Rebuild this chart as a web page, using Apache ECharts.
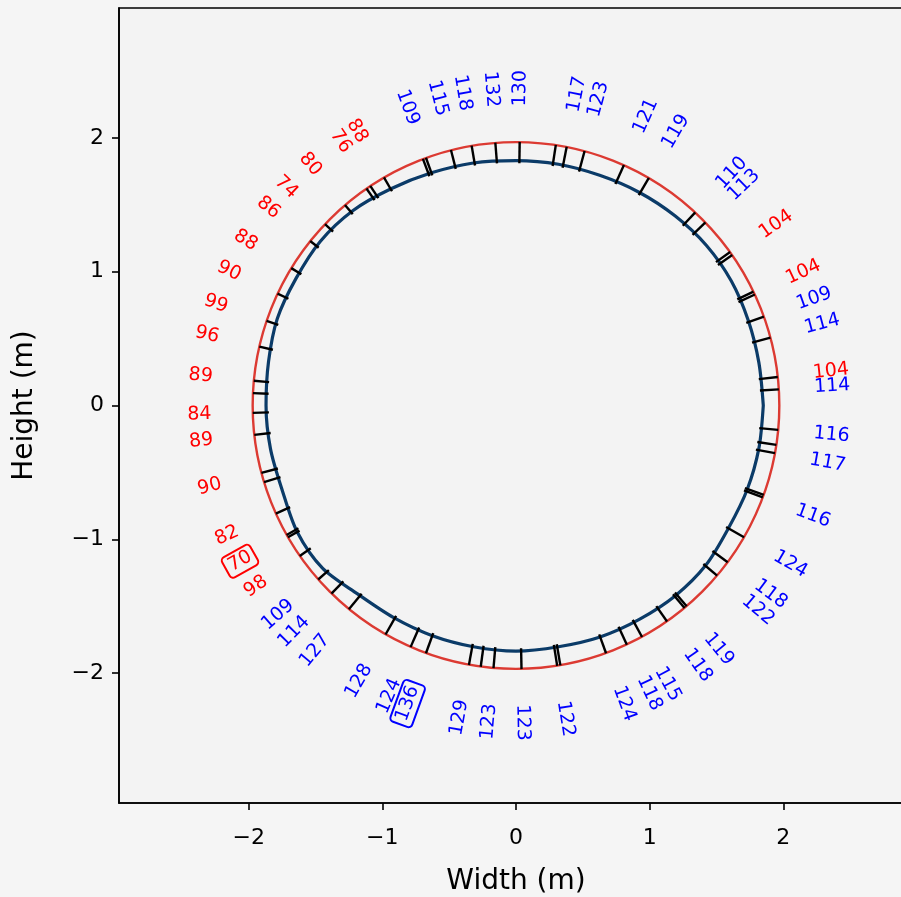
<!DOCTYPE html>
<html>
<head>
<meta charset="utf-8">
<script src="https://cdn.jsdelivr.net/npm/echarts@6/dist/echarts.min.js"></script>
<style>
html, body { margin: 0; background: #f5f5f5; }
#main { width: 901px; height: 897px; }
</style>
</head>
<body>
<div id="main"></div>
<script>
// 坐标轴刻度
var axisTicks = [-2, -1, 0, 1, 2];
var axisLimit = 2.97;

// 参考圆半径 (m)
var refRadius = 1.97;

// 实测轮廓：角度 (度, 逆时针, 0 = 右) 与半径 (m)
var profileAngles = [0, 10, 20, 30, 40, 50, 60, 70, 80, 90, 100, 110, 120, 130, 140, 150, 160, 170,
                     180, 190, 200, 210, 220, 230, 240, 250, 260, 270, 280, 290, 300, 310, 320, 330, 340, 350];
var profileRadii = [1.85, 1.845, 1.85, 1.86, 1.86, 1.85, 1.84, 1.83, 1.83, 1.83, 1.84, 1.85, 1.87, 1.90, 1.91, 1.90, 1.90, 1.88,
                    1.87, 1.865, 1.86, 1.89, 1.89, 1.84, 1.83, 1.83, 1.83, 1.835, 1.83, 1.84, 1.845, 1.855, 1.855, 1.835, 1.84, 1.845];

// 测点：角度 (度) 与读数，null = 无标注
var pointAngles = [3.5, 6.2, 14.9, 19.7, 24.9, 25.6, 34.8, 35.6, 44.0, 47.1, 59.7, 65.8, 74.9, 78.9, 81.3,
                   89.2, 94.5, 99.7, 104.3, 110.0, 110.7, 120.1, 123.6, 124.6, 130.5, 136.5, 141.4, 148.6,
                   154.9, 161.3, 167.1, 174.6, 177.3, 181.6, 186.4, 194.8, 196.9, 204.2, 209.4, 210.0, 214.8,
                   221.3, 225.5, 230.6, 240.3, 246.4, 250.0, 259.7, 262.3, 265.1, 271.2, 279.0, 279.7, 290.0,
                   294.9, 298.6, 305.0, 309.8, 310.4, 319.8, 323.5, 330.0, 339.6, 340.2, 349.6, 351.4, 354.7];
var pointValues = [114, 104, 114, 109, 104, null, 104, null, 113, 110, 119, 121, 123, 117, null,
                   130, 132, 118, 115, 109, null, 88, 76, null, 80, 74, 86, 88,
                   90, 99, 96, 89, null, 84, 89, 90, null, 82, 70, null, 98,
                   109, 114, 127, 128, 124, 136, 129, null, 123, 123, 122, null, 124,
                   118, 115, 118, 119, null, 122, 118, 124, 116, null, 117, null, 116];

var redBelow = 105;
var labelRadius = 2.37;

var shown = pointValues.filter(function (v) { return v !== null; });
var vMax = Math.max.apply(null, shown);
var vMin = Math.min.apply(null, shown);

function toXY(deg, r) {
    var a = deg * Math.PI / 180;
    return [r * Math.cos(a), r * Math.sin(a)];
}

// 两个读取点之间线性取轮廓半径
function profileAt(deg) {
    var n = profileAngles.length;
    for (var i = 0; i < n; i++) {
        var a0 = profileAngles[i];
        var a1 = i + 1 < n ? profileAngles[i + 1] : profileAngles[0] + 360;
        if (deg >= a0 && deg <= a1) {
            var t = (deg - a0) / (a1 - a0);
            return profileRadii[i] + t * (profileRadii[(i + 1) % n] - profileRadii[i]);
        }
    }
    return profileRadii[0];
}

var profileData = profileAngles.map(function (a, i) { return toXY(a, profileRadii[i]); });
profileData.push(profileData[0]);

var pointData = pointAngles.map(function (a, i) { return [a, pointValues[i]]; });

function minusFmt(v) {
    return v < 0 ? '\u2212' + (-v) : String(v);
}

var myChart = echarts.init(document.getElementById('main'));

var option = {
    backgroundColor: '#f5f5f5',
    animation: false,
    grid: {
        left: 119, top: 8, width: 794, height: 795,
        outerBoundsMode: 'none',
        show: true, backgroundColor: '#f3f3f3', borderColor: '#000', borderWidth: 1.6
    },
    xAxis: {
        type: 'value', min: -axisLimit, max: axisLimit,
        name: 'Width (m)', nameLocation: 'middle', nameGap: 65,
        nameTextStyle: { fontSize: 28, color: '#000', fontFamily: 'DejaVu Sans' },
        axisLine: { onZero: false, lineStyle: { color: '#000', width: 1.6 } },
        axisTick: { customValues: axisTicks, length: 7, lineStyle: { color: '#000', width: 1.6 } },
        axisLabel: { customValues: axisTicks, formatter: minusFmt, fontSize: 22, color: '#000',
                     fontFamily: 'DejaVu Sans', margin: 24 },
        splitLine: { show: false }
    },
    yAxis: {
        type: 'value', min: -axisLimit, max: axisLimit,
        name: 'Height (m)', nameLocation: 'middle', nameGap: 80, nameRotate: 90,
        nameTextStyle: { fontSize: 28, color: '#000', fontFamily: 'DejaVu Sans' },
        axisLine: { onZero: false, lineStyle: { color: '#000', width: 1.6 } },
        axisTick: { customValues: axisTicks, length: 7, lineStyle: { color: '#000', width: 1.6 } },
        axisLabel: { customValues: axisTicks, formatter: minusFmt, fontSize: 22, color: '#000',
                     fontFamily: 'DejaVu Sans', margin: 15 },
        splitLine: { show: false }
    },
    series: [
        {
            // 参考圆
            type: 'custom',
            data: [[0, 0]],
            renderItem: function (params, api) {
                var c = api.coord([0, 0]);
                var r = api.size([refRadius, 0])[0];
                return {
                    type: 'circle',
                    shape: { cx: c[0], cy: c[1], r: r },
                    style: { fill: 'none', stroke: '#dc3a32', lineWidth: 2.4 }
                };
            },
            z: 2
        },
        {
            // 实测轮廓
            type: 'line',
            data: profileData,
            showSymbol: false,
            smooth: 0.3,
            lineStyle: { color: '#0b3b68', width: 3.2 },
            z: 3
        },
        {
            // 测点刻线 + 读数
            type: 'custom',
            data: pointData,
            z: 4,
            renderItem: function (params, api) {
                var deg = api.value(0);
                var val = pointValues[params.dataIndex];
                var pIn = api.coord(toXY(deg, profileAt(deg) - 0.02));
                var pOut = api.coord(toXY(deg, refRadius));
                var children = [{
                    type: 'line',
                    shape: { x1: pIn[0], y1: pIn[1], x2: pOut[0], y2: pOut[1] },
                    style: { stroke: '#000', lineWidth: 2.4 }
                }];
                if (val !== null) {
                    var pos = api.coord(toXY(deg, labelRadius));
                    var rot = deg > 90 && deg <= 270 ? deg - 180 : (deg > 270 ? deg - 360 : deg);
                    var color = val < redBelow ? '#ff0000' : '#0000ff';
                    var boxed = val === vMax || val === vMin;
                    children.push({
                        type: 'text',
                        x: pos[0], y: pos[1],
                        rotation: rot * Math.PI / 180,
                        style: {
                            text: String(val), fill: color,
                            fontSize: 19, fontFamily: 'DejaVu Sans',
                            align: 'center', verticalAlign: 'middle',
                            borderColor: boxed ? color : null,
                            borderWidth: boxed ? 2 : 0,
                            borderRadius: 4,
                            padding: boxed ? [2, 4] : 0
                        }
                    });
                }
                return { type: 'group', children: children };
            }
        }
    ]
};

myChart.setOption(option);
</script>
</body>
</html>
